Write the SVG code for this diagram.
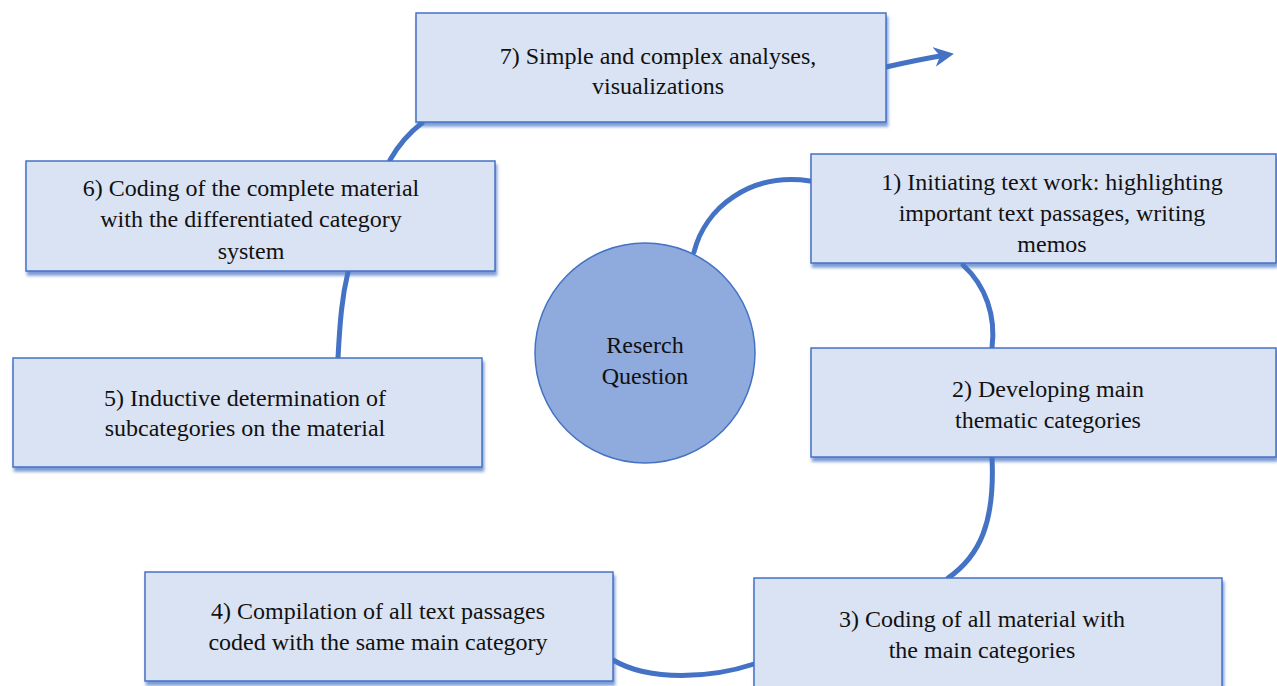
<svg xmlns="http://www.w3.org/2000/svg" width="1277" height="686" viewBox="0 0 1277 686">
  <style>
    .box { fill: #dae3f3; stroke: #4472c4; stroke-width: 1.5; filter: url(#shadow); }
    .label { font-family: 'Liberation Serif', Tinos, 'Noto Serif', 'DejaVu Serif', FreeSerif, Times, serif; font-size: 24px; fill: #111; text-anchor: middle; }
    .link { fill: none; stroke: #4472c4; stroke-width: 5; stroke-linecap: round; }
  </style>
  <defs>
    <filter id="shadow" x="-5%" y="-10%" width="112%" height="130%">
      <feDropShadow dx="1.5" dy="4" stdDeviation="1.8" flood-color="#4472c4" flood-opacity="0.7"/>
    </filter>
    <marker id="arrow" viewBox="0 0 10 10" refX="6" refY="5" markerWidth="4" markerHeight="4" orient="auto" markerUnits="strokeWidth">
      <path d="M0,0 L10,5 L0,10 L3,5 Z" fill="#4472c4"/>
    </marker>
  </defs>

  <rect width="1277" height="686" fill="#ffffff"/>

  <!-- connectors -->
  <g id="connectors">
    <path class="link" d="M694 252 C705 208 750 172 810 181"/>
    <path class="link" d="M963 265 C986 286 996 316 992 348"/>
    <path class="link" d="M992 458 C995 522 980 556 948 578"/>
    <path class="link" d="M754 664 C712 678 650 682 613 660"/>
    <path class="link" d="M338 358 C340 320 342 297 348 272"/>
    <path class="link" d="M390 160 C398 146 410 132 422 123"/>
    <path class="link" d="M886 67 C908 62 928 58 946 55" marker-end="url(#arrow)"/>
  </g>

  <!-- central node -->
  <g id="research-question">
    <circle cx="645" cy="353" r="110" fill="#8faadc" stroke="#4472c4" stroke-width="1.5"/>
    <text class="label" x="645" y="353">Reserch</text>
    <text class="label" x="645" y="384">Question</text>
  </g>

  <!-- step nodes -->
  <g id="step1">
    <rect class="box" x="811" y="154" width="465" height="109"/>
    <text class="label" x="1052" y="190">1) Initiating text work: highlighting</text>
    <text class="label" x="1052" y="221">important text passages, writing</text>
    <text class="label" x="1052" y="252">memos</text>
  </g>

  <g id="step2">
    <rect class="box" x="811" y="348" width="465" height="109"/>
    <text class="label" x="1048" y="397">2) Developing main</text>
    <text class="label" x="1048" y="428">thematic categories</text>
  </g>

  <g id="step3">
    <rect class="box" x="754" y="578" width="468" height="115"/>
    <text class="label" x="982" y="627">3) Coding of all material with</text>
    <text class="label" x="982" y="658">the main categories</text>
  </g>

  <g id="step4">
    <rect class="box" x="145" y="572" width="468" height="109"/>
    <text class="label" x="378" y="619">4) Compilation of all text passages</text>
    <text class="label" x="378" y="650">coded with the same main category</text>
  </g>

  <g id="step5">
    <rect class="box" x="13" y="358" width="469" height="109"/>
    <text class="label" x="245" y="406">5) Inductive determination of</text>
    <text class="label" x="245" y="436">subcategories on the material</text>
  </g>

  <g id="step6">
    <rect class="box" x="26" y="161" width="469" height="110"/>
    <text class="label" x="251" y="196">6) Coding of the complete material</text>
    <text class="label" x="251" y="227">with the differentiated category</text>
    <text class="label" x="251" y="259">system</text>
  </g>

  <g id="step7">
    <rect class="box" x="416" y="13" width="470" height="109"/>
    <text class="label" x="658" y="64">7) Simple and complex analyses,</text>
    <text class="label" x="658" y="94">visualizations</text>
  </g>
</svg>
